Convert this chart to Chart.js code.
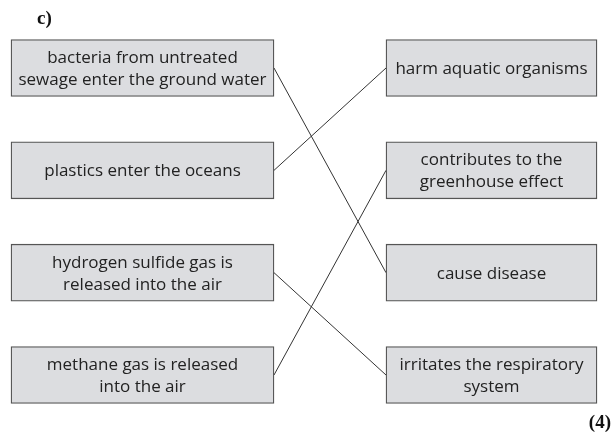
<!DOCTYPE html>
<html>
<head>
<meta charset="utf-8">
<script src="https://cdn.jsdelivr.net/npm/chart.js@4"></script>
<style>
  html, body { margin: 0; padding: 0; background: #fff; }
  #wrap { width: 615px; height: 436px; }
</style>
</head>
<body>
<div id="wrap"><canvas id="Chart"></canvas></div>
<script>
// Data
const causes = [
  ["bacteria from untreated", "sewage enter the ground water"],
  ["plastics enter the oceans"],
  ["hydrogen sulfide gas is", "released into the air"],
  ["methane gas is released", "into the air"]
];
const effects = [
  ["harm aquatic organisms"],
  ["contributes to the", "greenhouse effect"],
  ["cause disease"],
  ["irritates the respiratory", "system"]
];
// which effect row each cause row is joined to
const matches = [2, 0, 3, 1];
const partLabel = "c)";
const marksLabel = "(4)";

// Layout (x in page units, rows on y)
const leftCol = [11, 274];
const rightCol = [386, 597];
const boxHeight = 57;

const rows = causes.map((c, i) => i);

const boxData = [];
rows.forEach((i) => boxData.push({ y: i, x: leftCol }));
rows.forEach((i) => boxData.push({ y: i, x: rightCol }));

const lineSets = matches.map((to, from) => ({
  type: "line",
  indexAxis: "x",
  data: [{ x: leftCol[1], y: from }, { x: rightCol[0], y: to }],
  borderColor: "#333333",
  borderWidth: 1,
  pointRadius: 0,
  fill: false,
  tension: 0
}));

// Text inside boxes and the two labels
const textPlugin = {
  id: "boxText",
  afterDatasetsDraw(chart) {
    const ctx = chart.ctx;
    const xs = chart.scales.x;
    const ys = chart.scales.y;
    ctx.save();
    ctx.fillStyle = "#222222";
    ctx.font = "17px 'Open Sans'";
    ctx.textAlign = "center";
    ctx.textBaseline = "middle";
    const drawBox = (lines, col, row) => {
      const cx = xs.getPixelForValue((col[0] + col[1]) / 2);
      const cy = ys.getPixelForValue(row) + 1;
      const lh = 22;
      lines.forEach((t, k) => {
        ctx.fillText(t, cx, cy + (k - (lines.length - 1) / 2) * lh);
      });
    };
    causes.forEach((l, i) => drawBox(l, leftCol, i));
    effects.forEach((l, i) => drawBox(l, rightCol, i));

    ctx.fillStyle = "#111111";
    ctx.font = "bold 19px 'Liberation Serif'";
    ctx.textAlign = "left";
    ctx.textBaseline = "alphabetic";
    ctx.fillText(partLabel, 37, 24);
    ctx.textAlign = "right";
    ctx.fillText(marksLabel, 611, 428);
    ctx.restore();
  }
};

const chartCanvas = document.getElementById("Chart");

new Chart(chartCanvas, {
  type: "bar",
  data: {
    datasets: [
      {
        type: "bar",
        data: boxData,
        backgroundColor: "#dcdde0",
        borderColor: "#555555",
        borderWidth: 1.3,
        borderSkipped: false,
        barThickness: boxHeight
      },
      ...lineSets
    ]
  },
  options: {
    indexAxis: "y",
    responsive: true,
    maintainAspectRatio: false,
    animation: false,
    events: [],
    layout: { padding: 0 },
    plugins: {
      legend: { display: false },
      tooltip: { enabled: false },
      title: { display: false }
    },
    scales: {
      x: { type: "linear", display: false, min: 0, max: 615, offset: false },
      y: { type: "linear", display: false, reverse: true, offset: false, min: -0.6645, max: 3.596 }
    }
  },
  plugins: [textPlugin]
});
</script>
</body>
</html>
